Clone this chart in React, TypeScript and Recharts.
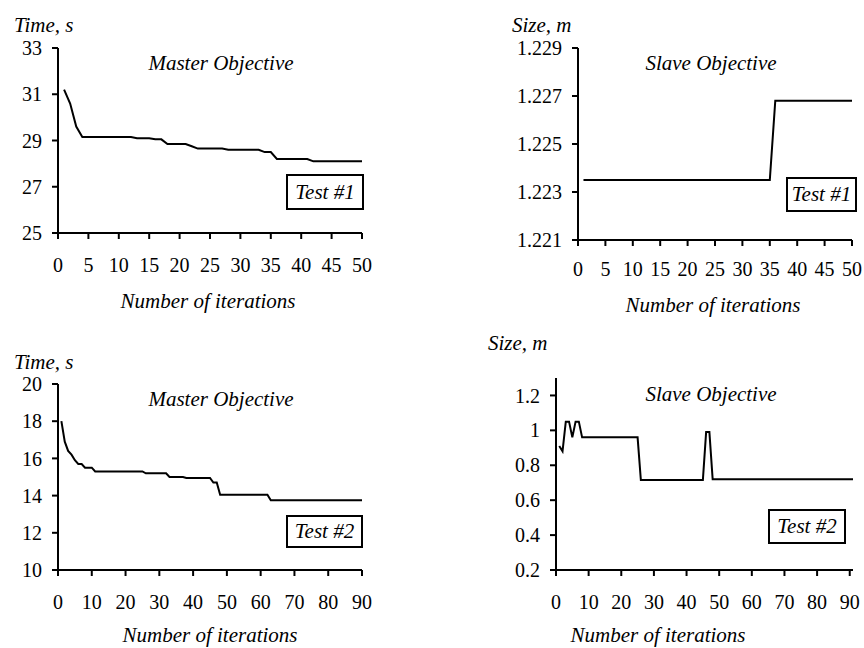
import { LineChart, Line, XAxis, YAxis } from "recharts";

const FONT = "Liberation Serif, DejaVu Serif, Noto Serif, serif";

// Test #1, master objective: time (s) per iteration 1..50
const masterTest1 = [
  31.2, 30.6, 29.6, 29.15, 29.15, 29.15, 29.15, 29.15, 29.15, 29.15,
  29.15, 29.15, 29.1, 29.1, 29.1, 29.05, 29.05, 28.85, 28.85, 28.85,
  28.85, 28.75, 28.65, 28.65, 28.65, 28.65, 28.65, 28.6, 28.6, 28.6,
  28.6, 28.6, 28.6, 28.5, 28.5, 28.2, 28.2, 28.2, 28.2, 28.2,
  28.2, 28.1, 28.1, 28.1, 28.1, 28.1, 28.1, 28.1, 28.1, 28.1,
];

// Test #1, slave objective: size (m) per iteration 1..50
const slaveTest1 = [
  1.2235, 1.2235, 1.2235, 1.2235, 1.2235, 1.2235, 1.2235, 1.2235, 1.2235, 1.2235,
  1.2235, 1.2235, 1.2235, 1.2235, 1.2235, 1.2235, 1.2235, 1.2235, 1.2235, 1.2235,
  1.2235, 1.2235, 1.2235, 1.2235, 1.2235, 1.2235, 1.2235, 1.2235, 1.2235, 1.2235,
  1.2235, 1.2235, 1.2235, 1.2235, 1.2235, 1.2268, 1.2268, 1.2268, 1.2268, 1.2268,
  1.2268, 1.2268, 1.2268, 1.2268, 1.2268, 1.2268, 1.2268, 1.2268, 1.2268, 1.2268,
];

// Test #2, master objective: iterations 1..90
const masterTest2 = [
  18.0, 16.9, 16.4, 16.2, 15.9, 15.7, 15.7, 15.5, 15.5, 15.5,
  15.3, 15.3, 15.3, 15.3, 15.3, 15.3, 15.3, 15.3, 15.3, 15.3,
  15.3, 15.3, 15.3, 15.3, 15.3, 15.2, 15.2, 15.2, 15.2, 15.2,
  15.2, 15.2, 15.0, 15.0, 15.0, 15.0, 15.0, 14.95, 14.95, 14.95,
  14.95, 14.95, 14.95, 14.95, 14.95, 14.7, 14.7, 14.05, 14.05, 14.05,
  14.05, 14.05, 14.05, 14.05, 14.05, 14.05, 14.05, 14.05, 14.05, 14.05,
  14.05, 14.05, 13.75, 13.75, 13.75, 13.75, 13.75, 13.75, 13.75, 13.75,
  13.75, 13.75, 13.75, 13.75, 13.75, 13.75, 13.75, 13.75, 13.75, 13.75,
  13.75, 13.75, 13.75, 13.75, 13.75, 13.75, 13.75, 13.75, 13.75, 13.75,
];

// Test #2, slave objective: iterations 1..91
const slaveTest2 = [
  0.91, 0.88, 1.05, 1.05, 0.96, 1.05, 1.05, 0.96, 0.96, 0.96,
  0.96, 0.96, 0.96, 0.96, 0.96, 0.96, 0.96, 0.96, 0.96, 0.96,
  0.96, 0.96, 0.96, 0.96, 0.96, 0.715, 0.715, 0.715, 0.715, 0.715,
  0.715, 0.715, 0.715, 0.715, 0.715, 0.715, 0.715, 0.715, 0.715, 0.715,
  0.715, 0.715, 0.715, 0.715, 0.715, 0.99, 0.99, 0.72, 0.72, 0.72,
  0.72, 0.72, 0.72, 0.72, 0.72, 0.72, 0.72, 0.72, 0.72, 0.72,
  0.72, 0.72, 0.72, 0.72, 0.72, 0.72, 0.72, 0.72, 0.72, 0.72,
  0.72, 0.72, 0.72, 0.72, 0.72, 0.72, 0.72, 0.72, 0.72, 0.72,
  0.72, 0.72, 0.72, 0.72, 0.72, 0.72, 0.72, 0.72, 0.72, 0.72,
  0.72,
];

const xTicks50 = [0, 5, 10, 15, 20, 25, 30, 35, 40, 45, 50];
const xTicks90 = [0, 10, 20, 30, 40, 50, 60, 70, 80, 90];
const yTicksTime1 = [25, 27, 29, 31, 33];
const yTicksSize1 = [1.221, 1.223, 1.225, 1.227, 1.229];
const yTicksTime2 = [10, 12, 14, 16, 18, 20];
const yTicksSize2 = [0.2, 0.4, 0.6, 0.8, 1, 1.2];

const toRows = (vals: number[]) => vals.map((v, i) => ({ it: i + 1, v }));

interface PanelProps {
  left: number;
  top: number;
  values: number[];
  xDomain: [number, number];
  xTicks: number[];
  yDomain: [number, number];
  yTicks: number[];
  yWidth: number;
  margin: { top: number; right: number; bottom: number; left: number };
  xTickMargin: number;
}

function Panel(p: PanelProps) {
  const axisStyle = { stroke: "#000", strokeWidth: 2 };
  const tickStyle = { fill: "#000", fontSize: 20, fontFamily: FONT };
  return (
    <div style={{ position: "absolute", left: p.left, top: p.top }}>
      <LineChart width={432} height={324} data={toRows(p.values)} margin={p.margin}>
        <XAxis
          type="number"
          dataKey="it"
          domain={p.xDomain}
          ticks={p.xTicks}
          interval={0}
          height={30}
          tickSize={6}
          tickMargin={p.xTickMargin}
          axisLine={axisStyle}
          tickLine={axisStyle}
          tick={tickStyle}
        />
        <YAxis
          type="number"
          domain={p.yDomain}
          ticks={p.yTicks}
          interval={0}
          width={p.yWidth}
          tickSize={6}
          tickMargin={10}
          axisLine={axisStyle}
          tickLine={axisStyle}
          tick={tickStyle}
          allowDataOverflow
        />
        <Line
          type="linear"
          dataKey="v"
          stroke="#000"
          strokeWidth={2}
          dot={false}
          isAnimationActive={false}
        />
      </LineChart>
    </div>
  );
}

function Txt({ x, y, children, center }: { x: number; y: number; children: string; center?: boolean }) {
  return (
    <div
      style={{
        position: "absolute",
        left: center ? x - 150 : x,
        top: y - 11,
        width: center ? 300 : undefined,
        textAlign: center ? "center" : "left",
        fontFamily: FONT,
        fontStyle: "italic",
        fontSize: 21,
        lineHeight: "22px",
        whiteSpace: "nowrap",
      }}
    >
      {children}
    </div>
  );
}

function Box({ x, y, w, h, children }: { x: number; y: number; w: number; h: number; children: string }) {
  return (
    <div
      style={{
        position: "absolute",
        left: x,
        top: y,
        width: w,
        height: h,
        boxSizing: "border-box",
        border: "2px solid #000",
        background: "#fff",
        display: "flex",
        alignItems: "center",
        justifyContent: "center",
        fontFamily: FONT,
        fontStyle: "italic",
        fontSize: 21,
      }}
    >
      {children}
    </div>
  );
}

export default function App() {
  return (
    <div style={{ position: "absolute", left: 0, top: 0, width: 864, height: 648, background: "#fff", overflow: "hidden" }}>
      <Panel
        left={0}
        top={0}
        values={masterTest1}
        xDomain={[0, 50]}
        xTicks={xTicks50}
        yDomain={[25, 33]}
        yTicks={yTicksTime1}
        yWidth={50}
        margin={{ top: 48, right: 70, bottom: 61, left: 8 }}
        xTickMargin={19}
      />
      <Panel
        left={432}
        top={0}
        values={slaveTest1}
        xDomain={[0, 50]}
        xTicks={xTicks50}
        yDomain={[1.221, 1.229]}
        yTicks={yTicksSize1}
        yWidth={60}
        margin={{ top: 48, right: 12, bottom: 54, left: 86 }}
        xTickMargin={16}
      />
      <Panel
        left={0}
        top={324}
        values={masterTest2}
        xDomain={[0, 90]}
        xTicks={xTicks90}
        yDomain={[10, 20]}
        yTicks={yTicksTime2}
        yWidth={50}
        margin={{ top: 60, right: 70, bottom: 48, left: 8 }}
        xTickMargin={19}
      />
      <Panel
        left={432}
        top={324}
        values={slaveTest2}
        xDomain={[0, 91]}
        xTicks={xTicks90}
        yDomain={[0.2, 1.3]}
        yTicks={yTicksSize2}
        yWidth={60}
        margin={{ top: 54, right: 11, bottom: 48, left: 64 }}
        xTickMargin={19}
      />

      <Txt x={14} y={25}>Time, s</Txt>
      <Txt x={512} y={25}>Size, m</Txt>
      <Txt x={14} y={362}>Time, s</Txt>
      <Txt x={488} y={343}>Size, m</Txt>

      <Txt x={221} y={63} center>Master Objective</Txt>
      <Txt x={711} y={63} center>Slave Objective</Txt>
      <Txt x={221} y={399} center>Master Objective</Txt>
      <Txt x={711} y={394} center>Slave Objective</Txt>

      <Txt x={208} y={301} center>Number of iterations</Txt>
      <Txt x={713} y={305} center>Number of iterations</Txt>
      <Txt x={210} y={635} center>Number of iterations</Txt>
      <Txt x={658} y={635} center>Number of iterations</Txt>

      <Box x={286} y={174} w={78} h={36}>Test #1</Box>
      <Box x={786} y={177} w={71} h={35}>Test #1</Box>
      <Box x={286} y={515} w={77} h={33}>Test #2</Box>
      <Box x={768} y={509} w={78} h={35}>Test #2</Box>
    </div>
  );
}
